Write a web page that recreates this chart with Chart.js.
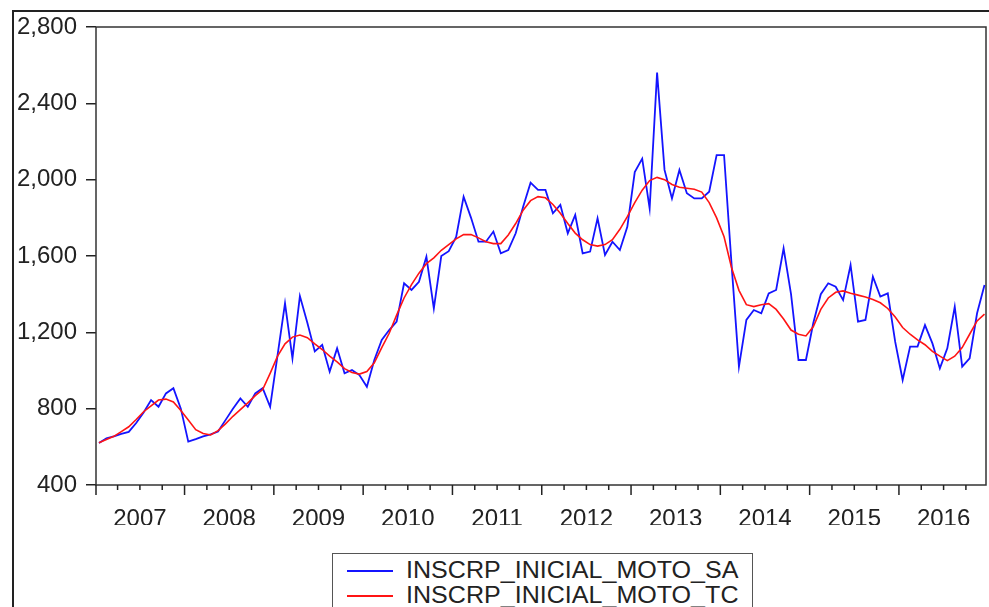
<!DOCTYPE html>
<html>
<head>
<meta charset="utf-8">
<script src="https://cdn.jsdelivr.net/npm/chart.js@4.4.1/dist/chart.umd.min.js"></script>
<style>
  html, body { margin: 0; padding: 0; background: #fff; }
  #wrap { position: relative; width: 989px; height: 607px; overflow: hidden; }
  #chart { position: absolute; left: 0; top: 0; }
  #frame { position: absolute; left: 12px; top: 10px; width: 990px; height: 610px;
           border-top: 2px solid #222; border-left: 2px solid #222; pointer-events: none; }
  #legend { position: absolute; left: 332px; top: 553px; width: 419px; height: 80px;
            border: 1.5px solid #555; background: #fff;
            font-family: "Liberation Sans", Arial, sans-serif; font-size: 23px; color: #222; }
  .row { position: absolute; left: 0; height: 25px; line-height: 25px; white-space: nowrap; }
  .swatch { position: absolute; left: 14px; top: 12px; width: 46px; height: 0; border-top: 2px solid; }
  .txt { position: absolute; left: 73px; top: 0; transform: scaleX(1.09); transform-origin: left center; }
</style>
</head>
<body>
<div id="wrap">
  <canvas id="chart" width="989" height="607"></canvas>
  <div id="frame"></div>
  <div id="legend"></div>
</div>
<script>
// monthly data, 2007M01 .. 2016M12
const years = ['2007', '2008', '2009', '2010', '2011', '2012', '2013', '2014', '2015', '2016'];
const yTicks = [400, 800, 1200, 1600, 2000, 2400, 2800];

const saValues = [
  620, 645, 655, 668, 678, 725, 780, 845, 810, 880, 907, 800,
  627, 640, 655, 665, 680, 740, 800, 854, 810, 880, 907, 810,
  1080, 1352, 1064, 1390, 1250, 1100, 1134, 994, 1116, 985, 1003, 976,
  915, 1055, 1160, 1212, 1256, 1457, 1422, 1465, 1596, 1325, 1600, 1625,
  1700, 1911, 1800, 1675, 1675, 1728, 1614, 1631, 1719, 1858, 1984, 1946,
  1946, 1824, 1868, 1719, 1815, 1614, 1623, 1797, 1605, 1675, 1631, 1753,
  2040, 2110, 1850, 2561, 2051, 1902, 2051, 1929, 1902, 1902, 1937, 2129,
  2129, 1560, 1020, 1265, 1317, 1300, 1404, 1422, 1640, 1400, 1055, 1055,
  1250, 1400, 1457, 1439, 1369, 1553, 1256, 1265, 1492, 1387, 1404, 1150,
  950, 1125, 1125, 1238, 1142, 1011, 1116, 1334, 1020, 1064, 1300, 1448
];

const tcValues = [
  622, 638, 655, 680, 705, 743, 784, 815, 845, 850, 835, 790,
  740, 690, 670, 662, 685, 720, 760, 795, 830, 868, 900, 985,
  1075, 1140, 1175, 1186, 1172, 1140, 1110, 1075, 1045, 1010, 990, 981,
  995, 1040, 1120, 1195, 1290, 1380, 1450, 1510, 1560, 1590, 1630, 1660,
  1690, 1712, 1712, 1695, 1675, 1665, 1665, 1710, 1770, 1840, 1890, 1911,
  1905, 1870, 1824, 1770, 1720, 1685, 1660, 1652, 1660, 1685, 1740, 1806,
  1880, 1945, 1995, 2012, 2000, 1975, 1960, 1955, 1950, 1935, 1880, 1800,
  1701, 1540, 1420, 1345, 1335, 1345, 1350, 1320, 1270, 1212, 1190, 1181,
  1230, 1320, 1380, 1410, 1417, 1405, 1395, 1385, 1372, 1355, 1325, 1280,
  1225, 1190, 1160, 1135, 1100, 1075, 1052, 1075, 1120, 1190, 1260, 1295
];

const FONT = '"Liberation Sans", Arial, sans-serif';
const INK = '#222';

// plot border + quarterly / yearly tick marks on the time axis
const framePlugin = {
  id: 'frame',
  afterDatasetsDraw(chart) {
    const { ctx, chartArea: a, scales } = chart;
    const x = scales.x;
    ctx.save();
    ctx.strokeStyle = '#333';
    ctx.lineWidth = 1.5;
    ctx.strokeRect(a.left, a.top, a.right - a.left, a.bottom - a.top);
    ctx.strokeStyle = INK;
    for (let m = -0.5; m <= x.max; m += 3) {
      const major = Math.round(m + 0.5) % 12 === 0;
      const px = m < x.min ? a.left : x.getPixelForValue(m);
      ctx.beginPath();
      ctx.moveTo(px, a.bottom);
      ctx.lineTo(px, a.bottom + (major ? 10 : 5));
      ctx.stroke();
    }
    ctx.restore();
  }
};

const chart = new Chart(document.getElementById('chart'), {
  type: 'line',
  data: {
    datasets: [
      {
        label: 'INSCRP_INICIAL_MOTO_SA',
        data: saValues.map((v, i) => ({ x: i, y: v })),
        borderColor: '#1414ff',
        borderWidth: 1.8,
        pointRadius: 0,
        tension: 0,
        order: 1
      },
      {
        label: 'INSCRP_INICIAL_MOTO_TC',
        data: tcValues.map((v, i) => ({ x: i, y: v })),
        borderColor: '#ff1414',
        borderWidth: 1.6,
        pointRadius: 0,
        tension: 0,
        order: 0
      }
    ]
  },
  options: {
    responsive: false,
    animation: false,
    layout: { padding: { left: 0, top: 27, right: 3, bottom: 82 } },
    plugins: { legend: { display: false }, tooltip: { enabled: false } },
    scales: {
      x: {
        type: 'linear',
        min: -0.4,
        max: 119.2,
        afterBuildTicks: (s) => { s.ticks = years.map((y, k) => ({ value: 5.5 + 12 * k })); },
        afterFit: (s) => { s.height = 40; },
        grid: { display: false },
        border: { display: false },
        ticks: {
          autoSkip: false,
          maxRotation: 0,
          padding: 12,
          color: INK,
          font: { family: FONT, size: 24 },
          callback: (v, idx) => years[idx]
        }
      },
      y: {
        min: 400,
        max: 2800,
        afterBuildTicks: (s) => { s.ticks = yTicks.map(v => ({ value: v })); },
        afterFit: (s) => { s.width = 96; },
        grid: { drawOnChartArea: false, drawTicks: true, tickLength: 10, color: INK, lineWidth: 1.5 },
        border: { display: false },
        ticks: {
          padding: 9,
          color: INK,
          font: { family: FONT, size: 24 },
          callback: (v) => v.toLocaleString('en-US')
        }
      }
    }
  },
  plugins: [framePlugin]
});

// legend box built from the datasets
const legend = document.getElementById('legend');
chart.data.datasets.forEach((ds, k) => {
  const row = document.createElement('div');
  row.className = 'row';
  row.style.top = (3.5 + 25 * k) + 'px';
  row.innerHTML = '<span class="swatch" style="border-color:' + ds.borderColor + '"></span>' +
                  '<span class="txt">' + ds.label + '</span>';
  legend.appendChild(row);
});
</script>
</body>
</html>
